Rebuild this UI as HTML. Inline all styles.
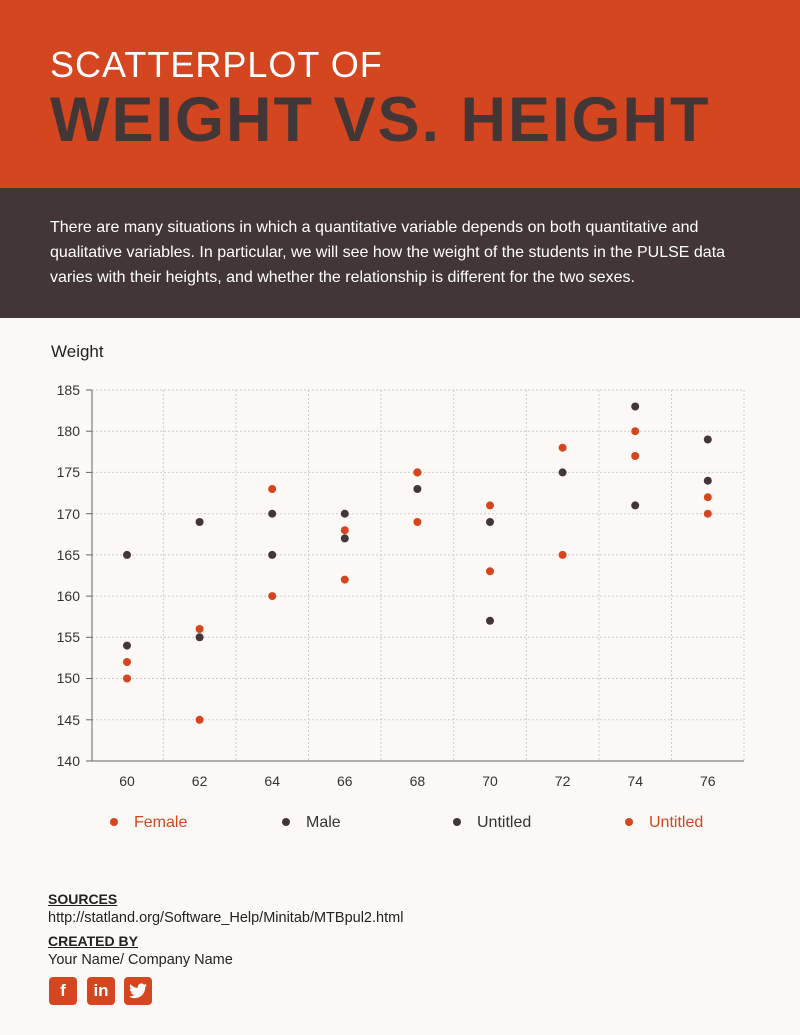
<!DOCTYPE html>
<html><head><meta charset="utf-8"><style>
body{margin:0;width:800px;height:1035px;background:#fcf8f5;font-family:"Liberation Sans",sans-serif;position:relative;overflow:hidden}
.hd{position:absolute;left:0;top:0;width:800px;height:188px;background:#d4461f}
.t1{position:absolute;left:50px;top:44px;color:#fff;font-size:36px;letter-spacing:1px}
.t2{position:absolute;left:50px;top:84px;color:#433636;font-size:63px;font-weight:bold;letter-spacing:2px;white-space:nowrap}
.db{position:absolute;left:0;top:188px;width:800px;height:130px;background:#433636;color:#fff;font-family:"Liberation Sans",sans-serif;font-size:16px;line-height:25px}
.db p{margin:0;position:absolute;left:50px;top:27px;width:700px}
.f{position:absolute;left:48px;font-size:14.5px;color:#222}
.u{font-weight:bold;text-decoration:underline;font-size:14px}
.ic{position:absolute;top:977px;width:28px;height:28px;background:#d4461f;border-radius:4px;color:#fff;font-weight:bold;text-align:center;line-height:28px;font-size:17px}
</style></head><body>
<div class="hd"><div class="t1">SCATTERPLOT OF</div><div class="t2">WEIGHT VS. HEIGHT</div></div>
<div class="db"><p>There are many situations in which a quantitative variable depends on both quantitative and qualitative variables. In particular, we will see how the weight of the students in the PULSE data varies with their heights, and whether the relationship is different for the two sexes.</p></div>
<svg style="position:absolute;left:0;top:318px" width="800" height="540" viewBox="0 318 800 540" font-family="Liberation Sans, sans-serif">
<text x="51" y="357" font-size="17" fill="#222">Weight</text>
<g stroke="#ccc" stroke-dasharray="2,2" stroke-width="1">
<line x1="92" x2="744" y1="390" y2="390"/><line x1="92" x2="744" y1="431.2" y2="431.2"/><line x1="92" x2="744" y1="472.4" y2="472.4"/><line x1="92" x2="744" y1="513.7" y2="513.7"/><line x1="92" x2="744" y1="554.9" y2="554.9"/><line x1="92" x2="744" y1="596.1" y2="596.1"/><line x1="92" x2="744" y1="637.3" y2="637.3"/><line x1="92" x2="744" y1="678.5" y2="678.5"/><line x1="92" x2="744" y1="719.8" y2="719.8"/>
<line y1="390" y2="761" x1="163.3" x2="163.3"/><line y1="390" y2="761" x1="235.9" x2="235.9"/><line y1="390" y2="761" x1="308.5" x2="308.5"/><line y1="390" y2="761" x1="381.1" x2="381.1"/><line y1="390" y2="761" x1="453.7" x2="453.7"/><line y1="390" y2="761" x1="526.3" x2="526.3"/><line y1="390" y2="761" x1="598.9" x2="598.9"/><line y1="390" y2="761" x1="671.5" x2="671.5"/><line y1="390" y2="761" x1="744" x2="744"/>
</g>
<path d="M92 390V761H744" stroke="#666" fill="none"/>
<g stroke="#666"><line x1="86" x2="92" y1="390" y2="390"/><line x1="86" x2="92" y1="431.2" y2="431.2"/><line x1="86" x2="92" y1="472.4" y2="472.4"/><line x1="86" x2="92" y1="513.7" y2="513.7"/><line x1="86" x2="92" y1="554.9" y2="554.9"/><line x1="86" x2="92" y1="596.1" y2="596.1"/><line x1="86" x2="92" y1="637.3" y2="637.3"/><line x1="86" x2="92" y1="678.5" y2="678.5"/><line x1="86" x2="92" y1="719.8" y2="719.8"/><line x1="86" x2="92" y1="761" y2="761"/></g>
<g font-size="14" fill="#333" text-anchor="end">
<text x="80" y="395">185</text><text x="80" y="436">180</text><text x="80" y="477">175</text><text x="80" y="519">170</text><text x="80" y="560">165</text><text x="80" y="601">160</text><text x="80" y="642">155</text><text x="80" y="683">150</text><text x="80" y="725">145</text><text x="80" y="766">140</text></g>
<g font-size="14" fill="#333" text-anchor="middle">
<text x="127" y="786">60</text><text x="199.6" y="786">62</text><text x="272.2" y="786">64</text><text x="344.8" y="786">66</text><text x="417.4" y="786">68</text><text x="490" y="786">70</text><text x="562.6" y="786">72</text><text x="635.2" y="786">74</text><text x="707.8" y="786">76</text></g>
<g fill="#433636">
<circle cx="127" cy="554.9" r="4"/><circle cx="127" cy="645.6" r="4"/>
<circle cx="199.6" cy="522" r="4"/><circle cx="199.6" cy="637.3" r="4"/>
<circle cx="272.2" cy="513.7" r="4"/><circle cx="272.2" cy="554.9" r="4"/>
<circle cx="344.8" cy="513.7" r="4"/><circle cx="344.8" cy="538.4" r="4"/>
<circle cx="417.4" cy="489" r="4"/><circle cx="417.4" cy="472.4" r="4"/>
<circle cx="490" cy="522" r="4"/><circle cx="490" cy="620.8" r="4"/>
<circle cx="562.6" cy="472.4" r="4"/>
<circle cx="635.2" cy="406.5" r="4"/><circle cx="635.2" cy="505.4" r="4"/>
<circle cx="707.8" cy="439.5" r="4"/><circle cx="707.8" cy="480.7" r="4"/>
</g>
<g fill="#d4461f">
<circle cx="127" cy="662" r="4"/><circle cx="127" cy="678.5" r="4"/>
<circle cx="199.6" cy="629" r="4"/><circle cx="199.6" cy="719.8" r="4"/>
<circle cx="272.2" cy="489" r="4"/><circle cx="272.2" cy="596.1" r="4"/>
<circle cx="344.8" cy="530.2" r="4"/><circle cx="344.8" cy="579.6" r="4"/>
<circle cx="417.4" cy="472.4" r="4"/><circle cx="417.4" cy="522" r="4"/>
<circle cx="490" cy="505.4" r="4"/><circle cx="490" cy="571.3" r="4"/>
<circle cx="562.6" cy="447.7" r="4"/><circle cx="562.6" cy="554.9" r="4"/>
<circle cx="635.2" cy="431.2" r="4"/><circle cx="635.2" cy="456" r="4"/>
<circle cx="707.8" cy="497.2" r="4"/><circle cx="707.8" cy="513.7" r="4"/>
</g>
<g font-size="16">
<circle cx="114" cy="822" r="4" fill="#d4461f"/><text x="134" y="827" fill="#d4461f">Female</text>
<circle cx="286" cy="822" r="4" fill="#433636"/><text x="306" y="827" fill="#333">Male</text>
<circle cx="457" cy="822" r="4" fill="#433636"/><text x="477" y="827" fill="#333">Untitled</text>
<circle cx="629" cy="822" r="4" fill="#d4461f"/><text x="649" y="827" fill="#d4461f">Untitled</text>
</g>
</svg>
<div class="f u" style="top:891px">SOURCES</div>
<div class="f" style="top:910px">http://statland.org/Software_Help/Minitab/MTBpul2.html</div>
<div class="f u" style="top:933px">CREATED BY</div>
<div class="f" style="top:952px">Your Name/ Company Name</div>
<div class="ic" style="left:49px">f</div>
<div class="ic" style="left:87px">in</div>
<div class="ic" style="left:124px"><svg width="18" height="16" viewBox="0 0 24 20" style="margin-top:6px"><path fill="#fff" d="M24 2.4a10 10 0 0 1-2.8.8A5 5 0 0 0 23.3.4a10 10 0 0 1-3.1 1.2A4.9 4.9 0 0 0 11.8 6 14 14 0 0 1 1.7.9a4.9 4.9 0 0 0 1.5 6.6A4.9 4.9 0 0 1 1 6.9a4.9 4.9 0 0 0 3.9 4.8 5 5 0 0 1-2.2.1 4.9 4.9 0 0 0 4.6 3.4A9.9 9.9 0 0 1 0 17.3 14 14 0 0 0 7.5 19.5c9.1 0 14-7.5 14-14v-.6A10 10 0 0 0 24 2.4z"/></svg></div>
</body></html>
